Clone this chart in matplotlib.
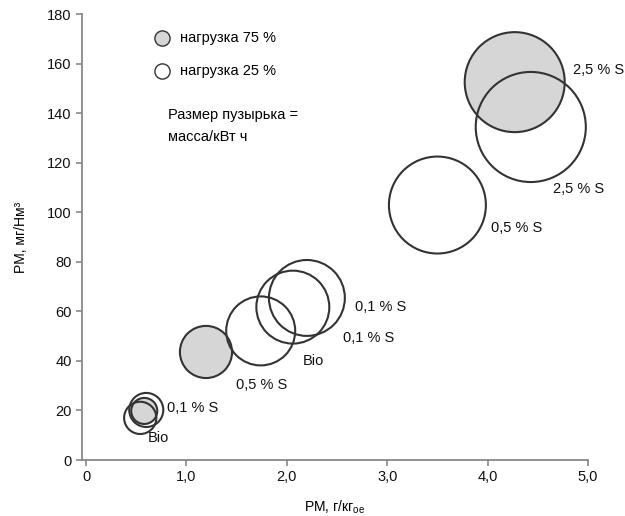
import matplotlib.pyplot as plt
import numpy as np

plt.rcParams['font.family'] = ['Liberation Sans', 'DejaVu Sans']

# bubbles: x = PM g/kg_oe, y = PM mg/Nm3, size = mass/kWh (relative)
load75_x = np.array([4.27, 1.195, 0.58])
load75_y = np.array([152.5, 43.6, 19.8])
load75_size = np.array([25.0, 6.8, 1.7])
load75_labels = ["2,5 % S", "0,5 % S", ""]

load25_x = np.array([4.43, 3.50, 2.20, 2.06, 1.74, 0.60, 0.54])
load25_y = np.array([134.4, 102.9, 65.4, 61.7, 52.1, 20.2, 17.0])
load25_size = np.array([30.3, 23.5, 14.4, 13.3, 11.9, 2.9, 2.6])
load25_labels = ["2,5 % S", "0,5 % S", "0,1 % S", "0,1 % S", "Bio", "0,1 % S", "Bio"]

# label offsets in pixels from bubble centre
load75_offsets = [(58, 12), (30, -33), (0, 0)]
load25_offsets = [(22, -62), (54, -23), (48, -9), (50, -31), (42, -30), (21, 2), (8, -20)]

scale = (2 * 10 * 0.72) ** 2  # size unit -> points^2
fs = 10.5

fig = plt.figure(figsize=(6.25, 5.16), dpi=100)
ax = fig.add_axes([82 / 625, 56 / 516, 506 / 625, 446 / 516])

ax.scatter(load75_x, load75_y, s=load75_size * scale, facecolor='#d6d6d6',
           edgecolor='#333333', linewidth=1.5, zorder=2)
ax.scatter(load25_x, load25_y, s=load25_size * scale, facecolor='none',
           edgecolor='#333333', linewidth=1.5, zorder=3)

for x, y, t, off in zip(load75_x, load75_y, load75_labels, load75_offsets):
    if t:
        ax.annotate(t, (x, y), xytext=off, textcoords='offset pixels',
                    ha='left', va='center', fontsize=fs, color='#111111')
for x, y, t, off in zip(load25_x, load25_y, load25_labels, load25_offsets):
    ax.annotate(t, (x, y), xytext=off, textcoords='offset pixels',
                ha='left', va='center', fontsize=fs, color='#111111')

# legend
ax.scatter([0.158], [0.946], s=120, facecolor='#d6d6d6', edgecolor='#333333',
           linewidth=1.0, transform=ax.transAxes, clip_on=False)
ax.scatter([0.158], [0.872], s=120, facecolor='white', edgecolor='#333333',
           linewidth=1.0, transform=ax.transAxes, clip_on=False)
ax.text(0.194, 0.946, "нагрузка 75 %", transform=ax.transAxes, va='center', fontsize=fs)
ax.text(0.194, 0.872, "нагрузка 25 %", transform=ax.transAxes, va='center', fontsize=fs)
ax.text(0.17, 0.773, "Размер пузырька =", transform=ax.transAxes, va='center', fontsize=fs)
ax.text(0.17, 0.724, "масса/кВт ч", transform=ax.transAxes, va='center', fontsize=fs)

ax.set_xlim(-0.04, 5.0)
ax.set_ylim(0, 180)
ax.set_xticks([0, 1, 2, 3, 4, 5])
ax.set_xticklabels(["0", "1,0", "2,0", "3,0", "4,0", "5,0"])
ax.set_yticks(np.arange(0, 181, 20))

for s in ['top', 'right']:
    ax.spines[s].set_visible(False)
for s in ['left', 'bottom']:
    ax.spines[s].set_color('#888888')
    ax.spines[s].set_linewidth(1.3)
ax.tick_params(colors='#888888', labelcolor='#111111', labelsize=10.5, length=4, width=1.2)

ax.set_xlabel("PM, г/кг$_{\\mathregular{oe}}$", fontsize=10, labelpad=10)
ax.set_ylabel("PM, мг/Нм³", fontsize=10, labelpad=14)

fig.savefig("out.png", dpi=100)
